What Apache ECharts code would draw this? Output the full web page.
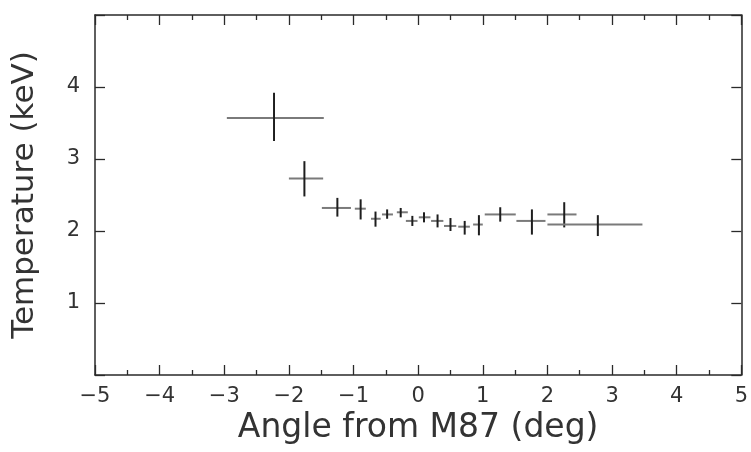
<!DOCTYPE html>
<html>
<head>
<meta charset="utf-8">
<script src="https://cdn.jsdelivr.net/npm/echarts@6/dist/echarts.min.js"></script>
<style>
  html, body { margin: 0; padding: 0; background: #fff; }
  #echart { width: 751px; height: 452px; }
</style>
</head>
<body>
<div id="echart"></div>
<script>
// angle from M87 (deg): centre and bin edges
var angle     = [-2.23, -1.76, -1.25, -0.89, -0.66, -0.48, -0.27, -0.09, 0.09, 0.30, 0.50, 0.72, 0.94, 1.27, 1.76, 2.26, 2.78];
var angleLow  = [-2.96, -2.00, -1.49, -0.98, -0.73, -0.56, -0.33, -0.19, 0.01, 0.20, 0.40, 0.62, 0.85, 1.03, 1.52, 2.00, 2.00];
var angleHigh = [-1.46, -1.47, -1.04, -0.81, -0.58, -0.39, -0.16, -0.01, 0.19, 0.39, 0.59, 0.80, 1.00, 1.51, 1.97, 2.45, 3.47];
// temperature (keV): value and error range
var temp      = [3.57, 2.73, 2.32, 2.31, 2.17, 2.23, 2.26, 2.14, 2.19, 2.14, 2.07, 2.06, 2.09, 2.23, 2.14, 2.23, 2.09];
var tempLow   = [3.25, 2.48, 2.20, 2.16, 2.06, 2.17, 2.19, 2.07, 2.12, 2.05, 2.00, 1.95, 1.94, 2.13, 1.95, 2.05, 1.93];
var tempHigh  = [3.92, 2.97, 2.46, 2.44, 2.27, 2.30, 2.32, 2.21, 2.26, 2.23, 2.18, 2.14, 2.22, 2.33, 2.30, 2.40, 2.22];

var xTicks = [-5, -4, -3, -2, -1, 0, 1, 2, 3, 4, 5];
var yTicks = [1, 2, 3, 4];

var points = angle.map(function (a, i) {
    return [a, temp[i], angleLow[i], angleHigh[i], tempLow[i], tempHigh[i]];
});

var myChart = echarts.init(document.getElementById('echart'));
var lineCol = '#2a2a2a';
var font = 'DejaVu Sans, Liberation Sans, Arial, sans-serif';

// a frame axis with inward ticks and no labels (top / right)
function frameAxis(pos, max, minor) {
    return {
        type: 'value',
        position: pos,
        min: pos === 'top' ? -5 : 0, max: max, interval: 1,
        axisLine: { onZero: false, lineStyle: { color: lineCol, width: 1.5 } },
        axisTick: { inside: true, length: 10, lineStyle: { color: lineCol, width: 1.3 } },
        minorTick: { show: minor, splitNumber: 2, length: 5, lineStyle: { color: lineCol, width: 1.3 } },
        splitLine: { show: false },
        axisLabel: { show: false }
    };
}

var option = {
    backgroundColor: '#fff',
    animation: false,
    grid: { left: 95, right: 6, top: 15, bottom: 77 },
    xAxis: [{
        type: 'value',
        min: -5, max: 5, interval: 1,
        name: 'Angle from M87 (deg)',
        nameLocation: 'middle',
        nameGap: 36,
        nameTextStyle: { fontSize: 33, color: '#333', fontFamily: font },
        axisLine: { onZero: false, lineStyle: { color: lineCol, width: 1.5 } },
        axisTick: { inside: true, length: 10, lineStyle: { color: lineCol, width: 1.3 } },
        minorTick: { show: true, splitNumber: 2, length: 5, lineStyle: { color: lineCol, width: 1.3 } },
        splitLine: { show: false },
        axisLabel: {
            fontSize: 21, margin: 11, color: '#333', fontFamily: font,
            formatter: function (v) {
                return xTicks.indexOf(v) < 0 ? '' : String(v).replace('-', '\u2212');
            }
        }
    }, frameAxis('top', 5, true)],
    yAxis: [{
        type: 'value',
        min: 0, max: 5, interval: 1,
        name: 'Temperature (keV)',
        nameLocation: 'middle',
        nameGap: 55,
        nameTextStyle: { fontSize: 31, color: '#333', fontFamily: font },
        axisLine: { onZero: false, lineStyle: { color: lineCol, width: 1.5 } },
        axisTick: { inside: true, length: 10, lineStyle: { color: lineCol, width: 1.3 } },
        splitLine: { show: false },
        axisLabel: {
            fontSize: 21, margin: 15, color: '#333', fontFamily: font,
            formatter: function (v) { return yTicks.indexOf(v) < 0 ? '' : String(v); }
        }
    }, frameAxis('right', 5, false)],
    series: [{
        type: 'custom',
        data: points,
        encode: { x: [0, 2, 3], y: [1, 4, 5] },
        renderItem: function (params, api) {
            var x = api.value(0), y = api.value(1);
            var l = api.coord([api.value(2), y]);
            var r = api.coord([api.value(3), y]);
            var b = api.coord([x, api.value(4)]);
            var t = api.coord([x, api.value(5)]);
            return {
                type: 'group',
                children: [{
                    type: 'line',
                    shape: { x1: l[0], y1: l[1], x2: r[0], y2: r[1] },
                    style: { stroke: '#7a7a7a', lineWidth: 2 }
                }, {
                    type: 'line',
                    shape: { x1: b[0], y1: b[1], x2: t[0], y2: t[1] },
                    style: { stroke: '#1e1e1e', lineWidth: 2 }
                }]
            };
        }
    }]
};
myChart.setOption(option);
</script>
</body>
</html>
